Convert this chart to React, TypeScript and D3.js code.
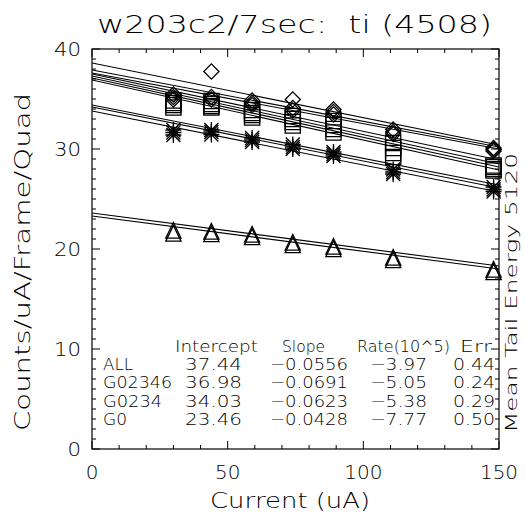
import React from "react";
import * as d3 from "d3";

// ---------- data ----------
const currents = [30, 44, 59, 74, 89, 111, 148];

const diamondRuns = [
  [35.45, 37.75, 34.85, 34.95, 33.95, 31.95, 30.1],
  [35.2, 35.2, 34.6, 34.1, 33.7, 31.7, 29.95],
  [34.95, 34.95, 34.4, 33.85, 33.45, 31.5, 29.8],
];
const squareRuns = [
  [34.85, 34.8, 33.9, 33.3, 32.8, 30.6, 28.35],
  [34.6, 34.5, 33.6, 33.0, 32.4, 30.1, 28.2],
  [34.4, 34.3, 33.4, 32.7, 32.0, 29.6, 28.0],
  [34.15, 34.15, 33.15, 32.35, 31.65, 29.2, 27.85],
];
const asteriskRuns = [
  [31.9, 31.9, 31.1, 30.45, 29.7, 27.95, 26.2],
  [31.65, 31.7, 30.9, 30.2, 29.5, 27.7, 25.95],
  [31.4, 31.45, 30.7, 30.0, 29.3, 27.5, 25.75],
];
const triangleRuns = [
  [21.85, 21.75, 21.45, 20.65, 20.25, 19.15, 17.95],
  [21.55, 21.5, 21.2, 20.4, 20.0, 18.9, 17.7],
];

const fitIntercepts = [38.6, 37.9, 37.6, 37.5, 37.3, 37.1, 36.9, 34.4, 34.2, 33.8, 23.6, 23.3];
const fitSlopes = [-0.0547, -0.0513, -0.0507, -0.0573, -0.0587, -0.0593, -0.06, -0.0533, -0.054, -0.054, -0.0353, -0.0353];

const xTicks = [0, 50, 100, 150];
const yTicks = [0, 10, 20, 30, 40];

const tableHeaders = ["Intercept", "Slope", "Rate(10^5)", "Err"];
const groupNames = ["ALL", "G02346", "G0234", "G0"];
const tabIntercepts = ["37.44", "36.98", "34.03", "23.46"];
const tabSlopes = ["\u22120.0556", "\u22120.0691", "\u22120.0623", "\u22120.0428"];
const tabRates = ["\u22123.97", "\u22125.05", "\u22125.38", "\u22127.77"];
const tabErrs = ["0.44", "0.24", "0.29", "0.50"];

const titleText = "w203c2/7sec:  ti (4508)";
const xLabel = "Current (uA)";
const yLabel = "Counts/uA/Frame/Quad";
const rightLabel = "Mean Tail Energy 5120";

// ---------- layout ----------
const W = 525;
const H = 529;
const L = 92, R = 499, T = 49, B = 449;
const FONT = "'DejaVu Sans', sans-serif";
const INK = "#000";

export default function App() {
  const x = d3.scaleLinear().domain([0, 150]).range([L, R]);
  const y = d3.scaleLinear().domain([0, 40]).range([B, T]);

  const xMinor = d3.range(0, 151, 10);
  const yMinor = d3.range(0, 41, 1);

  const fitPath = (a: number, b: number) =>
    d3.line<number>().x((d) => x(d)).y((d) => y(a + b * d))([0, 150]) || "";

  const s = 7.6;
  const diamond = (cx: number, cy: number) =>
    `M${cx},${cy - s}L${cx + s},${cy}L${cx},${cy + s}L${cx - s},${cy}Z`;
  const square = (cx: number, cy: number) =>
    `M${cx - s},${cy - s}H${cx + s}V${cy + s}H${cx - s}Z`;
  const triangle = (cx: number, cy: number) =>
    `M${cx - s},${cy + s}L${cx},${cy - s - 0.5}L${cx + s},${cy + s}Z`;
  const asterisk = (cx: number, cy: number) => {
    const a = 8, d = 7;
    return `M${cx - a},${cy}H${cx + a}M${cx},${cy - a}V${cy + a}M${cx - d},${cy - d}L${cx + d},${cy + d}M${cx - d},${cy + d}L${cx + d},${cy - d}`;
  };

  const markers = (runs: number[][], fn: (cx: number, cy: number) => string, key: string) =>
    runs.map((run, i) =>
      run.map((v, j) => (
        <path key={`${key}-${i}-${j}`} d={fn(x(currents[j]), y(v))} fill="none" stroke="#000" strokeWidth={1.3} />
      ))
    );

  const rowY = [370, 388, 407, 425];
  const headerY = 352;
  const nameLen = [30, 69, 59, 24];

  return (
    <svg
      width={W}
      height={H}
      style={{ position: "absolute", left: 0, top: 0, background: "#fff" }}
      fontFamily={FONT}
      fontWeight={200}
    >
      <rect x={0} y={0} width={W} height={H} fill="#fff" />
      <defs>
        <clipPath id="plotclip">
          <rect x={L} y={T} width={R - L} height={B - T} />
        </clipPath>
      </defs>

      {/* title */}
      <text x={97} y={33} fontSize={25} fill={INK} textLength={395} lengthAdjust="spacingAndGlyphs" style={{ whiteSpace: "pre" }}>
        {titleText}
      </text>

      {/* fit lines */}
      <g clipPath="url(#plotclip)">
        {fitIntercepts.map((a, i) => (
          <path key={`fit-${i}`} d={fitPath(a, fitSlopes[i])} fill="none" stroke="#000" strokeWidth={1.1} />
        ))}
      </g>

      {/* markers */}
      <g>
        {markers(diamondRuns, diamond, "d")}
        {markers(squareRuns, square, "s")}
        {markers(asteriskRuns, asterisk, "a")}
        {markers(triangleRuns, triangle, "t")}
      </g>

      {/* axes box */}
      <rect x={L} y={T} width={R - L} height={B - T} fill="none" stroke="#000" strokeWidth={1.2} />
      {xMinor.map((v) => {
        const len = v % 50 === 0 ? 8 : 4;
        return (
          <g key={`xt-${v}`} stroke="#000" strokeWidth={1}>
            <line x1={x(v)} x2={x(v)} y1={B} y2={B - len} />
            <line x1={x(v)} x2={x(v)} y1={T} y2={T + len} />
          </g>
        );
      })}
      {yMinor.map((v) => {
        const len = v % 10 === 0 ? 8 : 4;
        return (
          <g key={`yt-${v}`} stroke="#000" strokeWidth={1}>
            <line x1={L} x2={L + len} y1={y(v)} y2={y(v)} />
            <line x1={R} x2={R - len} y1={y(v)} y2={y(v)} />
          </g>
        );
      })}

      {/* tick labels */}
      {xTicks.map((v) => (
        <text key={`xl-${v}`} x={x(v)} y={479} fontSize={19} fill={INK} textAnchor="middle"
          textLength={String(v).length * 12.7} lengthAdjust="spacingAndGlyphs">
          {String(v)}
        </text>
      ))}
      {yTicks.map((v) => (
        <text key={`yl-${v}`} x={81} y={y(v) + 7} fontSize={19} fill={INK} textAnchor="end"
          textLength={String(v).length * 13.5} lengthAdjust="spacingAndGlyphs">
          {String(v)}
        </text>
      ))}

      {/* axis titles */}
      <text x={290} y={508} fontSize={22} fill={INK} textAnchor="middle" textLength={160} lengthAdjust="spacingAndGlyphs">
        {xLabel}
      </text>
      <text
        transform={`translate(30,262) rotate(-90)`}
        fontSize={22}
        fill={INK}
        textAnchor="middle"
        textLength={338}
        lengthAdjust="spacingAndGlyphs"
      >
        {yLabel}
      </text>
      <text
        transform={`translate(517,293) rotate(-90)`}
        fontSize={16}
        fill={INK}
        textAnchor="middle"
        textLength={280}
        lengthAdjust="spacingAndGlyphs"
      >
        {rightLabel}
      </text>

      {/* fit table */}
      <g fontSize={16} fill={INK}>
        <text x={175} y={headerY} textLength={83} lengthAdjust="spacingAndGlyphs">{tableHeaders[0]}</text>
        <text x={282} y={headerY} textLength={43} lengthAdjust="spacingAndGlyphs">{tableHeaders[1]}</text>
        <text x={357} y={headerY} textLength={93} lengthAdjust="spacingAndGlyphs">{tableHeaders[2]}</text>
        <text x={460} y={headerY} textLength={32} lengthAdjust="spacingAndGlyphs">{tableHeaders[3]}</text>
        {groupNames.map((g, i) => (
          <g key={`row-${g}`}>
            <text x={103} y={rowY[i]} textLength={nameLen[i]} lengthAdjust="spacingAndGlyphs">{g}</text>
            <text x={185} y={rowY[i]} textLength={57} lengthAdjust="spacingAndGlyphs">{tabIntercepts[i]}</text>
            <text x={270} y={rowY[i]} textLength={78} lengthAdjust="spacingAndGlyphs">{tabSlopes[i]}</text>
            <text x={370} y={rowY[i]} textLength={57} lengthAdjust="spacingAndGlyphs">{tabRates[i]}</text>
            <text x={453} y={rowY[i]} textLength={42} lengthAdjust="spacingAndGlyphs">{tabErrs[i]}</text>
          </g>
        ))}
      </g>
    </svg>
  );
}
